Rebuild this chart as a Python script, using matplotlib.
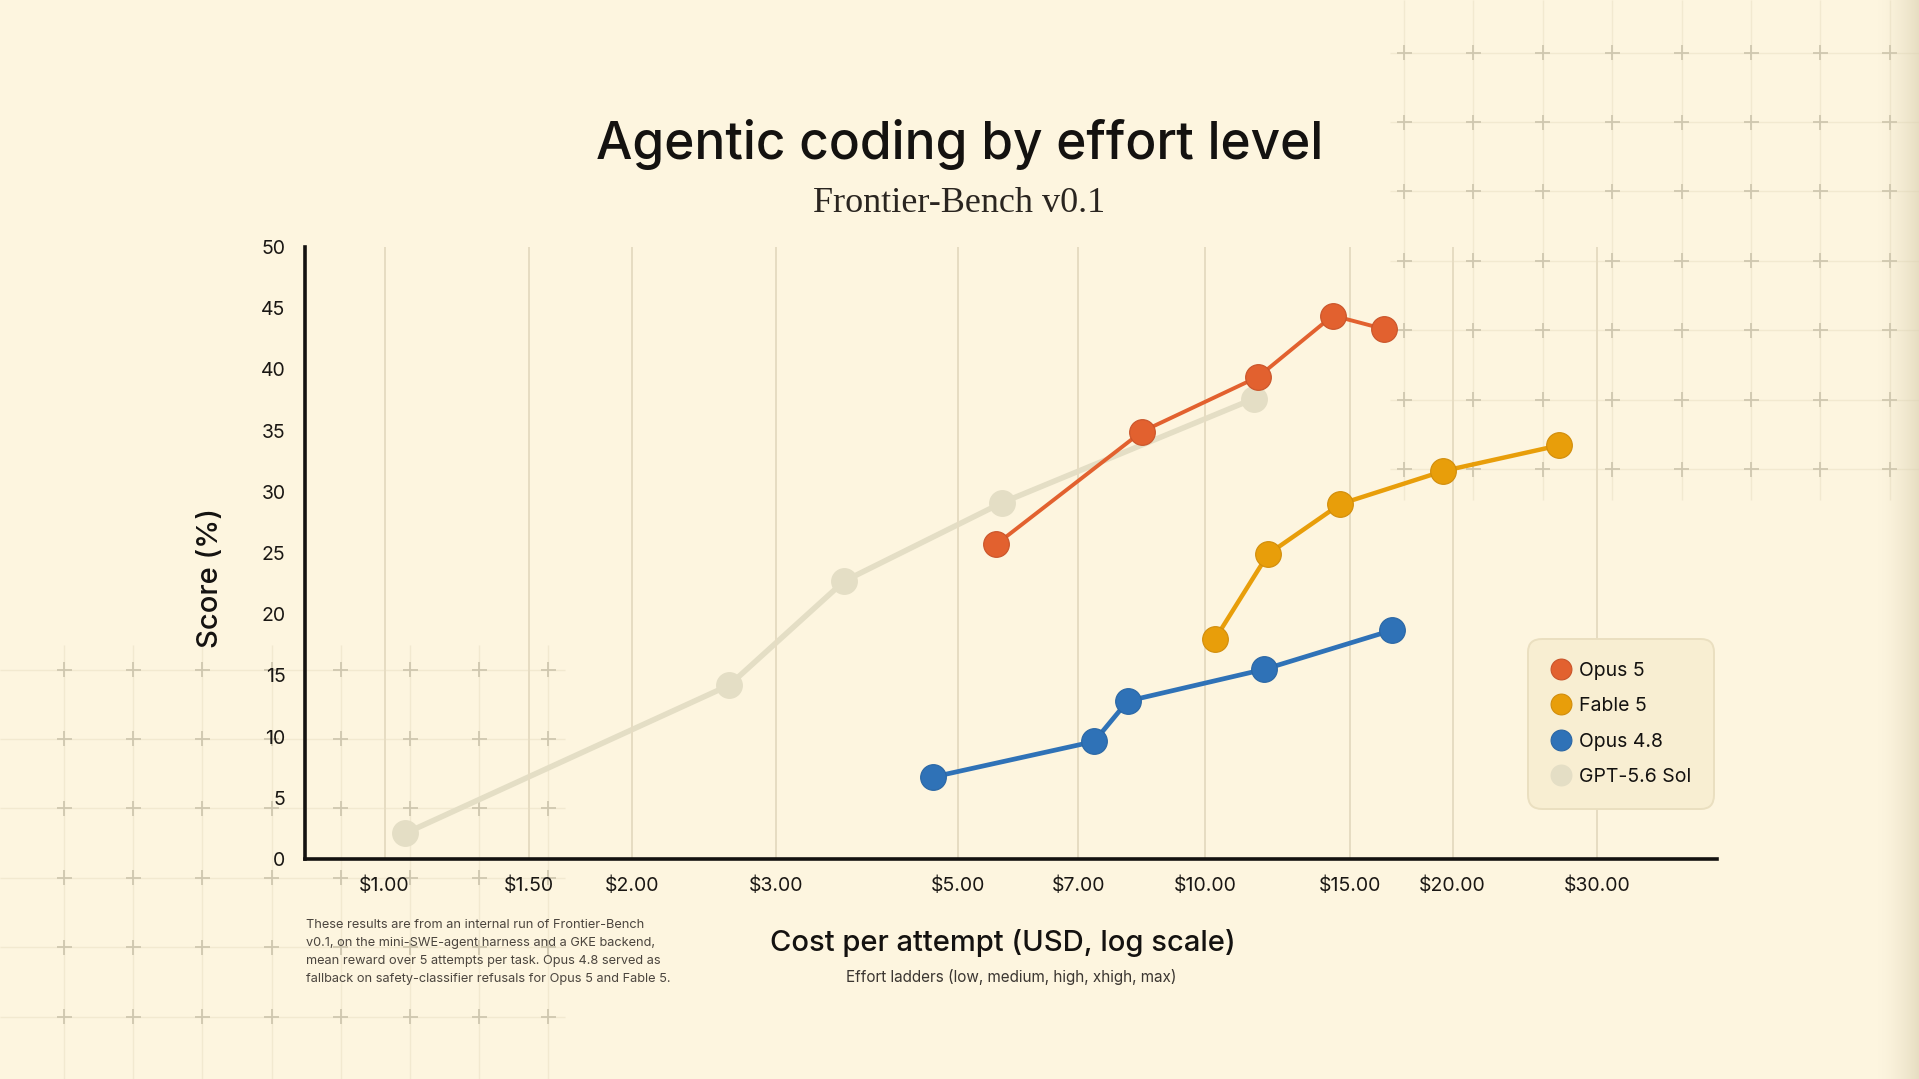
import numpy as np
import matplotlib
matplotlib.use("Agg")
import matplotlib.pyplot as plt
from matplotlib.lines import Line2D
from matplotlib.collections import LineCollection

# ---------------- data ----------------
series_names = ["Opus 5", "Fable 5", "Opus 4.8", "GPT-5.6 Sol"]

opus5_cost = [5.56, 8.36, 11.6, 14.3, 16.5]
opus5_score = [25.7, 34.9, 39.4, 44.4, 43.3]

fable5_cost = [10.28, 11.92, 14.6, 19.5, 27.0]
fable5_score = [18.0, 24.9, 29.0, 31.7, 33.8]

opus48_cost = [4.66, 7.32, 8.04, 11.8, 16.9]
opus48_score = [6.7, 9.6, 12.9, 15.5, 18.7]

gpt_cost = [1.06, 2.63, 3.63, 5.65, 11.45]
gpt_score = [2.1, 14.2, 22.7, 29.1, 37.6]

x_ticks = [1, 1.5, 2, 3, 5, 7, 10, 15, 20, 30]
x_tick_labels = [r"\$1.00", r"\$1.50", r"\$2.00", r"\$3.00", r"\$5.00",
                 r"\$7.00", r"\$10.00", r"\$15.00", r"\$20.00", r"\$30.00"]
y_ticks = [0, 5, 10, 15, 20, 25, 30, 35, 40, 45, 50]

title = "Agentic coding by effort level"
subtitle = "Frontier-Bench v0.1"
x_label = "Cost per attempt (USD, log scale)"
x_sub = "Effort ladders (low, medium, high, xhigh, max)"
y_label = "Score (%)"
footnote = ("These results are from an internal run of Frontier-Bench\n"
            "v0.1, on the mini-SWE-agent harness and a GKE backend,\n"
            "mean reward over 5 attempts per task. Opus 4.8 served as\n"
            "fallback on safety-classifier refusals for Opus 5 and Fable 5.")

# ---------------- style ----------------
BG = "#FDF5DF"
SANS = ["Inter", "Lato", "DejaVu Sans"]
SERIF = ["Liberation Serif", "DejaVu Serif"]
plt.rcParams["font.family"] = SANS

W, H = 1919, 1079
fig = plt.figure(figsize=(W / 100, H / 100), dpi=100, facecolor=BG)

# background decoration (pixel coordinates)
bg = fig.add_axes([0, 0, 1, 1], zorder=-5)
bg.set_xlim(0, W)
bg.set_ylim(H, 0)
bg.axis("off")


def cross_grid(cols, rows, vspan, hspan):
    faint = []
    for c in cols:
        faint.append([(c, vspan[0]), (c, vspan[1])])
    for r in rows:
        faint.append([(hspan[0], r), (hspan[1], r)])
    bg.add_collection(LineCollection(faint, colors="#F2E9D0", linewidths=1.0, zorder=1))
    arms = []
    a = 7.5
    for c in cols:
        for r in rows:
            arms.append([(c - a, r), (c + a, r)])
            arms.append([(c, r - a), (c, r + a)])
    bg.add_collection(LineCollection(arms, colors="#CFC7AF", linewidths=1.3, zorder=2))


cross_grid(1404 + 69.4 * np.arange(8), 52.6 + 69.4 * np.arange(7), (0, 500), (1390, W))
cross_grid(64 + 69.2 * np.arange(8), 669.5 + 69.4 * np.arange(6), (645, H), (0, 565))

# right edge shadow
grad = np.zeros((1, 64, 4))
shade = np.array([0.85, 0.81, 0.69])
grad[0, :, :3] = shade
grad[0, :, 3] = np.linspace(0, 1, 64) ** 1.6 * 0.6
bg.imshow(grad, extent=[1876, W, H, 0], aspect="auto", zorder=3, interpolation="bilinear")
bg.set_xlim(0, W)
bg.set_ylim(H, 0)

# ---------------- main axes ----------------
ax = fig.add_axes([305 / W, 1 - 859 / H, (1717 - 305) / W, (859 - 247) / H], zorder=2)
ax.set_facecolor("none")
ax.set_xscale("log")
ax.set_xlim(0.8, 42)
ax.set_ylim(0, 50)

series = [
    (gpt_cost, gpt_score, "#E4DEC5", "#E4DEC5", 4.0, 1),
    (opus5_cost, opus5_score, "#E2612F", "#C9542A", 2.8, 3),
    (fable5_cost, fable5_score, "#E89E0A", "#D18D0B", 3.2, 3),
    (opus48_cost, opus48_score, "#2F72B7", "#2A66A4", 3.4, 3),
]
for xs, ys, c, ec, lw, z in series:
    ax.plot(xs, ys, color=c, lw=lw, marker="o", markersize=18.5,
            markerfacecolor=c, markeredgecolor=ec, markeredgewidth=0.8,
            zorder=z, solid_capstyle="round")

ax.set_xticks(x_ticks)
ax.set_xticklabels(x_tick_labels)
ax.xaxis.set_minor_locator(matplotlib.ticker.NullLocator())
ax.set_yticks(y_ticks)
ax.tick_params(axis="both", length=0, labelsize=14, colors="#1a1714")
ax.tick_params(axis="x", pad=12.5)
ax.tick_params(axis="y", pad=14)
ax.grid(axis="x", color="#E6DCC2", lw=1.4, zorder=0)
ax.grid(axis="y", visible=False)
for s in ["top", "right"]:
    ax.spines[s].set_visible(False)
for s in ["left", "bottom"]:
    ax.spines[s].set_color("#141210")
    ax.spines[s].set_linewidth(2.6)

# legend
names_colors = [("#E2612F", "#C9542A"), ("#E89E0A", "#D18D0B"),
                ("#2F72B7", "#2A66A4"), ("#E4DEC5", "#E4DEC5")]
handles = [Line2D([], [], ls="none", marker="o", markersize=15,
                  markerfacecolor=c, markeredgecolor=ec, markeredgewidth=0.8)
           for c, ec in names_colors]
leg = ax.legend(handles, series_names, loc="upper left", bbox_to_anchor=(0.868, 0.356),
                frameon=True, fancybox=True, facecolor="#F8EED2", edgecolor="#EADFC0",
                framealpha=1, fontsize=14, handletextpad=0.45, labelspacing=0.9,
                borderpad=1.05, handlelength=1.0, borderaxespad=0)
leg.get_frame().set_linewidth(1.4)
leg.get_frame().set_boxstyle("round,pad=0.12,rounding_size=0.7")
for t in leg.get_texts():
    t.set_color("#141210")

# ---------------- texts ----------------
fig.text(0.5, 1 - 144 / H, title, ha="center", va="center", fontsize=37,
         fontweight="medium", color="#141210")
fig.text(0.5, 1 - 203 / H, subtitle, ha="center", va="center", fontsize=26,
         family=SERIF, color="#2a2520")
fig.text(1003 / W, 1 - 943 / H, x_label, ha="center", va="center", fontsize=21,
         fontweight="medium", color="#141210")
fig.text(1011 / W, 1 - 977 / H, x_sub, ha="center", va="center", fontsize=11,
         color="#3b3631")
fig.text(210 / W, 1 - 578 / H, y_label, ha="center", va="center", fontsize=21,
         rotation=90, fontweight="medium", color="#141210")
fig.text(306 / W, 1 - 919 / H, footnote, ha="left", va="top", fontsize=9.2,
         color="#4b453e", linespacing=1.66)

fig.savefig("out.png", dpi=100, facecolor=BG)
